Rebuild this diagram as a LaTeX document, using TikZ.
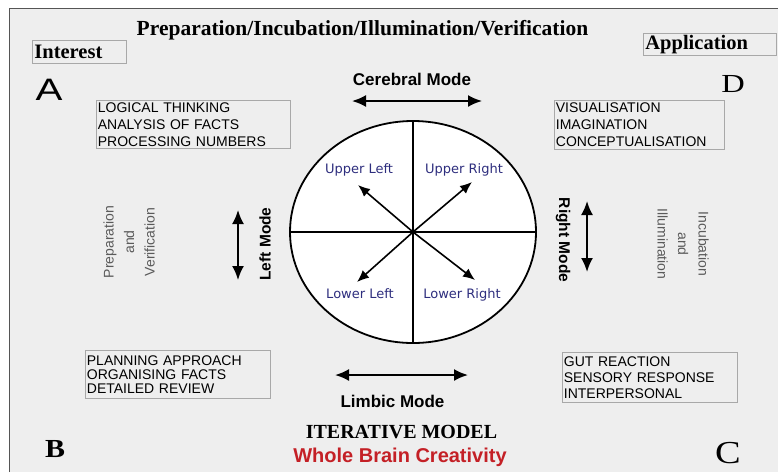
\documentclass[tikz,border=0pt]{standalone}
\usepackage{fontspec}
\setmainfont{Liberation Serif}
\newfontfamily\arialf{Liberation Sans}
\newfontfamily\dejavuf{DejaVu Sans}
\usetikzlibrary{arrows.meta,shapes.geometric}
\definecolor{bg}{HTML}{EEEEEE}
\definecolor{framec}{HTML}{555555}
\definecolor{boxline}{HTML}{A8A8A8}
\definecolor{quad}{HTML}{2E2E7E}
\definecolor{grayt}{HTML}{5A5A5A}
\definecolor{brainred}{HTML}{C42026}
\begin{document}
\begin{tikzpicture}[x=1pt,y=-1pt,
  infobox/.style={draw=boxline,line width=0.8pt,anchor=north west,align=left,inner xsep=1.5pt,inner ysep=0pt,font=\arialf\fontsize{14}{#1}\selectfont},
  labelbox/.style={draw=boxline,line width=0.8pt,anchor=north west,align=left,inner xsep=2pt,inner ysep=0pt,font=\bfseries\fontsize{20.5}{20.5}\selectfont},
  modelabel/.style={anchor=base,font=\arialf\bfseries\fontsize{17}{17}\selectfont},
  sidemode/.style={font=\arialf\bfseries\fontsize{15.5}{15.5}\selectfont},
  quadlabel/.style={anchor=base,font=\dejavuf\fontsize{13}{13}\selectfont,text=quad},
  sidetext/.style={font=\arialf\fontsize{14}{20.5}\selectfont,text=grayt,align=center},
  modearrow/.style={{Latex[length=14pt,width=12pt]}-{Latex[length=14pt,width=12pt]},line width=2pt},
  quadarrow/.style={-{Latex[length=12pt,width=10pt]},line width=1.6pt},
  cornerletter/.style={anchor=base,inner sep=0pt},
]
\useasboundingbox (0,0) rectangle (778,472);
\fill[white] (0,0) rectangle (778,472);
\fill[bg] (9,8) rectangle (778,472);
\draw[framec,line width=1pt] (9,472) -- (9,8) -- (778,8);

% title and top labels
\node[anchor=base,font=\bfseries\fontsize{21.5}{21.5}\selectfont] (title) at (362.5,35) {Preparation/Incubation/Illumination/Verification};
\node[labelbox,minimum width=94pt,minimum height=23pt,text width=90pt] (interest) at (32,40) {Interest};
\node[labelbox,minimum width=133pt,minimum height=22pt,text width=129pt] (application) at (643,33) {Application};

% corner letters
\node[cornerletter,font=\arialf\fontsize{31}{31}\selectfont,xscale=1.3] (A) at (49,100) {A};
\node[cornerletter,font=\fontsize{26}{26}\selectfont,xscale=1.25] (D) at (733,92) {D};
\node[cornerletter,font=\bfseries\fontsize{26}{26}\selectfont,xscale=1.15] (B) at (55,457) {B};
\node[cornerletter,font=\fontsize{32}{32}\selectfont,xscale=1.2] (C) at (728,463) {C};

% info boxes
\node[infobox=17,minimum width=194pt,minimum height=48pt,text width=191pt] (logic) at (96,100) {LOGICAL THINKING\\ANALYSIS OF FACTS\\PROCESSING NUMBERS};
\node[infobox=17,minimum width=170pt,minimum height=49pt,text width=167pt] (visual) at (554,100) {VISUALISATION\\IMAGINATION\\CONCEPTUALISATION};
\node[infobox=14,minimum width=185pt,minimum height=48pt,text width=182pt] (plan) at (85,350) {PLANNING APPROACH\\ORGANISING FACTS\\DETAILED REVIEW};
\node[infobox=16,minimum width=175pt,minimum height=50pt,text width=172pt] (gut) at (562,352) {GUT REACTION\\SENSORY RESPONSE\\INTERPERSONAL};

% modes
\node[modelabel] (cerebral) at (412,85) {Cerebral Mode};
\coordinate (cerL) at (352,101);
\coordinate (cerR) at (482,101);
\draw[modearrow] (cerL) -- (cerR);

\node[modelabel] (limbic) at (392.5,407) {Limbic Mode};
\coordinate (limL) at (335,375);
\coordinate (limR) at (468,375);
\draw[modearrow] (limL) -- (limR);

\node[sidemode,rotate=90] (leftmode) at (265,244) {Left Mode};
\coordinate (lmT) at (238,210);
\coordinate (lmB) at (238,280);
\draw[modearrow] (lmT) -- (lmB);

\node[sidemode,rotate=-90] (rightmode) at (563,240) {Right Mode};
\coordinate (rmT) at (587,201);
\coordinate (rmB) at (587,272);
\draw[modearrow] (rmT) -- (rmB);

\node[sidetext,rotate=90] (prep) at (129,242) {Preparation\\and\\Verification};
\node[sidetext,rotate=-90] (incub) at (683,244) {Incubation\\and\\Illumination};

% brain circle
\node[ellipse,draw,fill=white,line width=1.8pt,minimum width=246pt,minimum height=222pt,inner sep=0pt] (brain) at (413,232) {};
\draw[line width=2.3pt] (brain.north) -- (brain.south);
\draw[line width=2.3pt] (brain.west) -- (brain.east);

\coordinate (ulT) at (358,185);
\coordinate (urT) at (472,182);
\coordinate (llT) at (357,282);
\coordinate (lrT) at (475,280);
\draw[quadarrow] (brain.center) -- (ulT);
\draw[quadarrow] (brain.center) -- (urT);
\draw[quadarrow] (brain.center) -- (llT);
\draw[quadarrow] (brain.center) -- (lrT);

\node[quadlabel] (ul) at (359,173) {Upper Left};
\node[quadlabel] (ur) at (464,173) {Upper Right};
\node[quadlabel] (ll) at (360,298) {Lower Left};
\node[quadlabel] (lr) at (462,298) {Lower Right};

% bottom titles
\node[anchor=base,font=\bfseries\fontsize{20}{20}\selectfont] (iter) at (401.5,438) {ITERATIVE MODEL};
\node[anchor=base,font=\arialf\bfseries\fontsize{20}{20}\selectfont,text=brainred] (whole) at (400,462) {Whole Brain Creativity};
\end{tikzpicture}
\end{document}
